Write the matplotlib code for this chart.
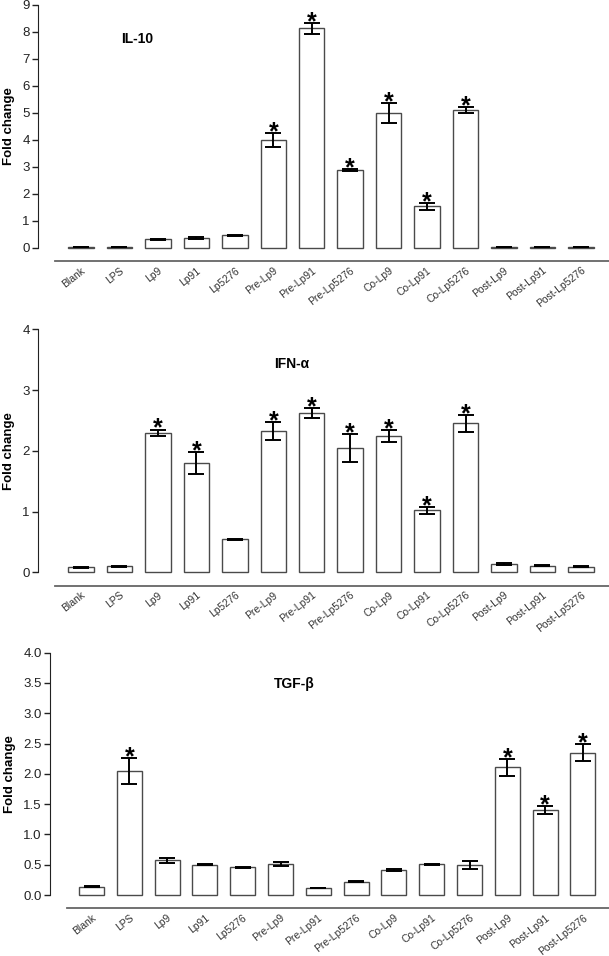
import matplotlib.pyplot as plt
from matplotlib.transforms import blended_transform_factory

plt.rcParams['font.family'] = ['Liberation Sans', 'DejaVu Sans']

groups = ['Blank', 'LPS', 'Lp9', 'Lp91', 'Lp5276', 'Pre-Lp9', 'Pre-Lp91', 'Pre-Lp5276',
          'Co-Lp9', 'Co-Lp91', 'Co-Lp5276', 'Post-Lp9', 'Post-Lp91', 'Post-Lp5276']

# IL-10
il10_mean = [0.02, 0.02, 0.32, 0.36, 0.46, 3.98, 8.12, 2.88, 4.99, 1.53, 5.10, 0.02, 0.03, 0.02]
il10_err = [0.0, 0.0, 0.02, 0.03, 0.01, 0.25, 0.21, 0.04, 0.38, 0.14, 0.10, 0.0, 0.01, 0.0]
il10_sig = [5, 6, 7, 8, 9, 10]

# IFN-alpha
ifn_mean = [0.08, 0.10, 2.30, 1.80, 0.54, 2.33, 2.62, 2.04, 2.24, 1.02, 2.45, 0.14, 0.11, 0.09]
ifn_err = [0.01, 0.01, 0.05, 0.18, 0.01, 0.15, 0.085, 0.23, 0.10, 0.055, 0.145, 0.02, 0.01, 0.01]
ifn_sig = [2, 3, 5, 6, 7, 8, 9, 10]

# TGF-beta
tgf_mean = [0.14, 2.05, 0.57, 0.50, 0.46, 0.51, 0.12, 0.22, 0.41, 0.51, 0.50, 2.11, 1.41, 2.35]
tgf_err = [0.01, 0.21, 0.04, 0.01, 0.01, 0.03, 0.0, 0.01, 0.02, 0.01, 0.065, 0.14, 0.065, 0.145]
tgf_sig = [1, 11, 12, 13]

W, H = 609, 956
fig = plt.figure(figsize=(W / 100, H / 100), dpi=100)

# name, means, errs, stars, left px, top px, zero px, ymax, yticks, fmt, title pos, xlim, spine start, ylabel px
panels = [
    ('IL-10', il10_mean, il10_err, il10_sig, 38, 4.7, 247.7, 9, range(0, 10), '%d',
     (1.46, 7.73), (-1.118, 13.73), -0.676, 15),
    ('IFN-α', ifn_mean, ifn_err, ifn_sig, 38, 329.3, 572.3, 4, range(0, 5), '%d',
     (5.49, 3.43), (-1.118, 13.73), -0.676, 15),
    ('TGF-β', tgf_mean, tgf_err, tgf_sig, 50, 652.7, 895.0, 4, [i * 0.5 for i in range(9)], '%.1f',
     (5.36, 3.48), (-1.098, 13.69), -0.656, 16),
]

x = list(range(len(groups)))

for (name, mean, err, sig, left, top, zero, ymax, yticks, fmt,
     tpos, xlim, sstart, ylab_x) in panels:
    ax = fig.add_axes([left / W, 1 - zero / H, (W - left) / W, (zero - top) / H])
    # spines first: moving a spine resets the ticks
    for s in ['top', 'right']:
        ax.spines[s].set_visible(False)
    ax.spines['bottom'].set_position(('outward', 9.7))
    ax.spines['bottom'].set_bounds(sstart, xlim[1])
    ax.spines['bottom'].set_color('#666666')
    ax.spines['bottom'].set_linewidth(1.3)
    ax.spines['left'].set_bounds(0, ymax)
    ax.spines['left'].set_color('#222222')

    ax.bar(x, mean, width=0.66, color='white', edgecolor='#4a4a4a', linewidth=1.0,
           clip_on=False, zorder=2)
    ax.errorbar(x, mean, yerr=err, fmt='none', ecolor='black', elinewidth=1.4,
                capsize=6, capthick=1.4, clip_on=False, zorder=3)
    for i in sig:
        ax.annotate('*', (i, mean[i] + err[i]), xytext=(0, -4.5), textcoords='offset points',
                    ha='center', va='baseline', fontsize=18, fontweight='bold')
    ax.set_xlim(*xlim)
    ax.set_ylim(0, ymax)
    ax.set_yticks(list(yticks))
    ax.yaxis.set_major_formatter(plt.FormatStrFormatter(fmt))
    ax.set_xticks(x)
    ax.set_xticklabels(groups, rotation=38, ha='right', va='top', rotation_mode='anchor',
                       fontsize=7.5, color='#333333')
    ax.tick_params(axis='x', length=0, pad=3)
    ax.tick_params(axis='y', length=4, width=1, pad=2, labelsize=9.5, colors='#222222')
    ax.set_ylabel('Fold change', fontsize=9.5, fontweight='bold')
    ax.yaxis.set_label_coords(ylab_x / W, 0.5,
                              transform=blended_transform_factory(fig.transFigure, ax.transAxes))
    ax.text(tpos[0], tpos[1], name, ha='center', va='center', fontsize=10, fontweight='bold')
    ax.patch.set_visible(False)

fig.savefig('out.png', dpi=100)
